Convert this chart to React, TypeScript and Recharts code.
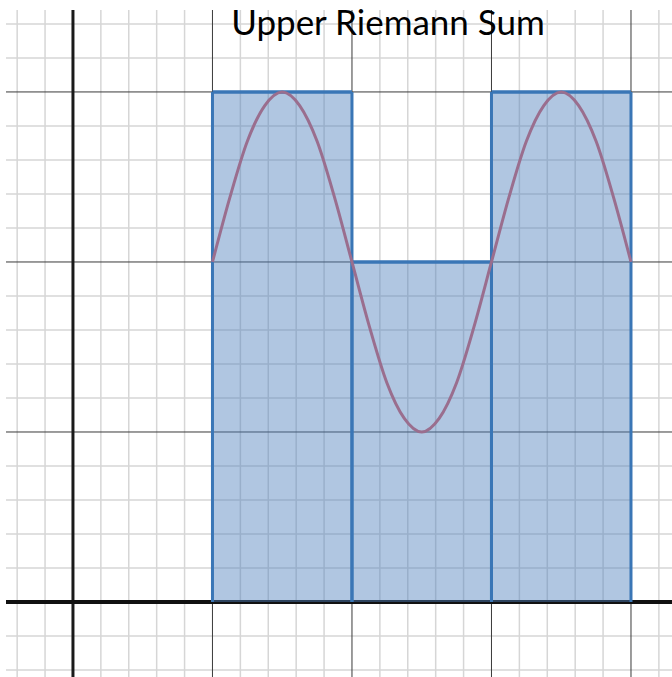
import React from 'react';
import { ComposedChart, Line, XAxis, YAxis, ReferenceLine, ReferenceArea } from 'recharts';

// grid values (x in major units, y in function units)
const minorX = [-0.4, -0.2, 0.2, 0.4, 0.6, 0.8, 1.2, 1.4, 1.6, 1.8, 2.2, 2.4, 2.6, 2.8, 3.2, 3.4, 3.6, 3.8, 4.2];
const majorX = [1, 2, 3, 4];
const minorY = [-0.4, -0.2, 0.2, 0.4, 0.6, 0.8, 1.2, 1.4, 1.6, 1.8, 2.2, 2.4, 2.6, 2.8, 3.2, 3.4];
const majorY = [1, 2, 3];

// upper sum rectangles
const rectLeft = [1, 2, 3];
const rectRight = [2, 3, 4];
const rectHeight = [3, 2, 3];

// curve
const curveX = [1, 1.125, 1.25, 1.375, 1.5, 1.625, 1.75, 1.875, 2, 2.125, 2.25, 2.375, 2.5, 2.625, 2.75, 2.875, 3, 3.125, 3.25, 3.375, 3.5, 3.625, 3.75, 3.875, 4];
const curveY = [2, 2.38, 2.71, 2.92, 3, 2.92, 2.71, 2.38, 2, 1.62, 1.29, 1.08, 1, 1.08, 1.29, 1.62, 2, 2.38, 2.71, 2.92, 3, 2.92, 2.71, 2.38, 2];

const curve = curveX.map((x, i) => ({ x, y: curveY[i] }));

const EDGE = '#3a76b6';

export default function App() {
    return (
        <div style={{ position: 'absolute', left: 0, top: 0, width: 672, height: 677, background: '#fff' }}>
            <div style={{ position: 'absolute', left: 6, top: 10 }}>
                <ComposedChart width={666} height={667} data={curve} margin={{ top: 0, right: 0, bottom: 0, left: 0 }}>
                    <XAxis dataKey="x" type="number" domain={[-0.48, 4.294]} allowDataOverflow hide />
                    <YAxis type="number" domain={[-0.441, 3.482]} allowDataOverflow hide />
                    {minorX.map(v => (
                        <ReferenceLine key={`mx${v}`} x={v} stroke="#d6d6d6" strokeWidth={1.5} zIndex={-100} />
                    ))}
                    {minorY.map(v => (
                        <ReferenceLine key={`my${v}`} y={v} stroke="#d6d6d6" strokeWidth={1.5} zIndex={-100} />
                    ))}
                    {majorX.map(v => (
                        <ReferenceLine key={`Mx${v}`} x={v} stroke="#3a3a3a" strokeWidth={1} zIndex={-90} />
                    ))}
                    {majorY.map(v => (
                        <ReferenceLine key={`My${v}`} y={v} stroke="#3a3a3a" strokeWidth={1} zIndex={-90} />
                    ))}
                    <ReferenceLine x={0} stroke="#1a1a1a" strokeWidth={3} zIndex={-80} />
                    <ReferenceLine y={0} stroke="#111" strokeWidth={4} zIndex={-80} />
                    {rectLeft.map((x1, i) => (
                        <ReferenceArea
                            key={`r${i}`}
                            x1={x1}
                            x2={rectRight[i]}
                            y1={0}
                            y2={rectHeight[i]}
                            fill="#4f81bd"
                            fillOpacity={0.45}
                            stroke="none"
                            zIndex={100}
                        />
                    ))}
                    {rectLeft.map((x1, i) => (
                        <ReferenceLine
                            key={`l${i}`}
                            segment={[{ x: x1, y: 0 }, { x: x1, y: rectHeight[i] }]}
                            stroke={EDGE}
                            strokeWidth={3}
                            zIndex={150}
                        />
                    ))}
                    {rectRight.map((x2, i) => (
                        <ReferenceLine
                            key={`e${i}`}
                            segment={[{ x: x2, y: 0 }, { x: x2, y: rectHeight[i] }]}
                            stroke={EDGE}
                            strokeWidth={3}
                            zIndex={150}
                        />
                    ))}
                    {rectLeft.map((x1, i) => (
                        <ReferenceLine
                            key={`t${i}`}
                            segment={[{ x: x1, y: rectHeight[i] }, { x: rectRight[i], y: rectHeight[i] }]}
                            stroke={EDGE}
                            strokeWidth={3.5}
                            zIndex={150}
                        />
                    ))}
                    <Line
                        dataKey="y"
                        type="monotone"
                        stroke="#9a6e8e"
                        strokeWidth={3}
                        dot={false}
                        isAnimationActive={false}
                        zIndex={400}
                    />
                </ComposedChart>
            </div>
            <div
                style={{
                    position: 'absolute',
                    left: 228,
                    top: 0,
                    width: 320,
                    textAlign: 'center',
                    fontFamily: 'Lato, sans-serif',
                    fontSize: 35,
                    color: '#000',
                    whiteSpace: 'nowrap',
                }}
            >
                Upper Riemann Sum
            </div>
        </div>
    );
}
